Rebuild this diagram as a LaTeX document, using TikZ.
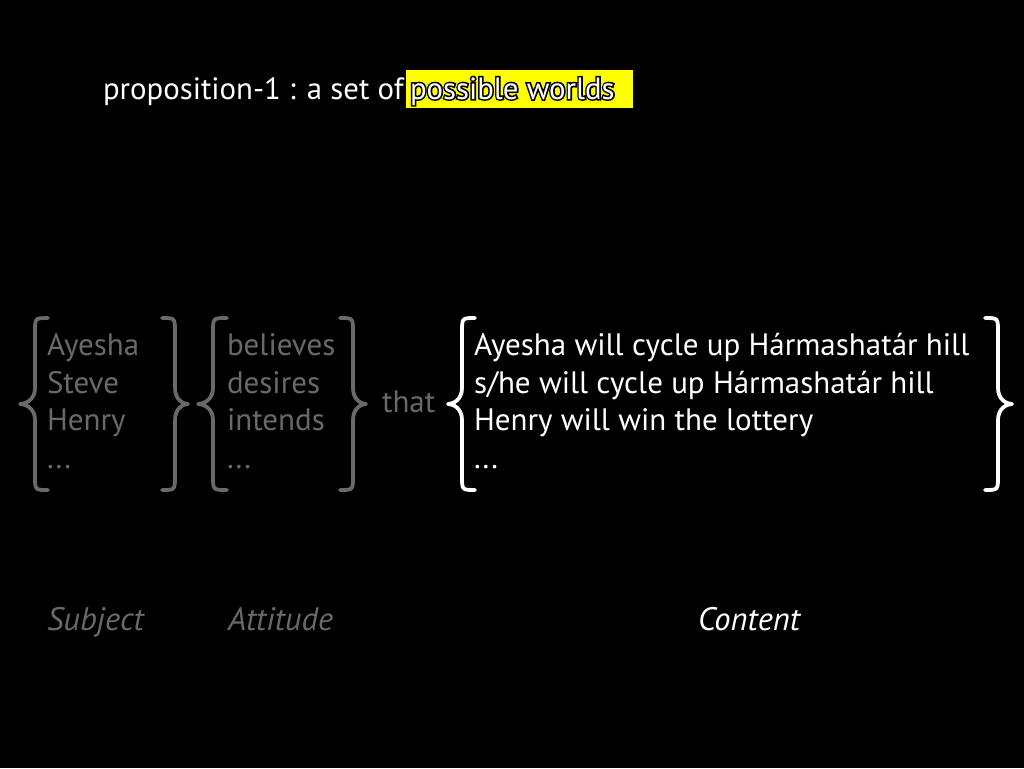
\documentclass[tikz,border=0pt]{standalone}
\usepackage{fontspec}
\setmainfont{PT Sans}
\newfontfamily\outlinefont[FakeBold=10]{PT Sans}
\definecolor{dim}{RGB}{105,105,105}
\definecolor{hl}{RGB}{255,255,0}
\newcommand{\mybrace}[7]{% color, tip x, bar x, end x, top y, mid y, bottom y
  \draw[bracestyle,#1] (#4,#5) .. controls (#3,#5) .. ({#3},{#5+14})
    -- ({#3},{#6-16}) .. controls ({#3},{#6-4}) and ({#2+0.35*(#3-#2)},{#6}) .. (#2,#6)
    .. controls ({#2+0.35*(#3-#2)},{#6}) and ({#3},{#6+4}) .. ({#3},{#6+16})
    -- ({#3},{#7-14}) .. controls (#3,#7) .. (#4,#7);}
\begin{document}
\begin{tikzpicture}[x=1pt,y=-1pt,
  txt/.style={anchor=base west, inner sep=0pt, outer sep=0pt},
  big/.style={font=\fontsize{31}{37}\selectfont},
  lab/.style={font=\fontsize{32.5}{38}\selectfont\itshape},
  ttl/.style={font=\fontsize{30.8}{36}\selectfont},
  bracestyle/.style={line width=3.8pt, line cap=round, line join=round}]
\fill[black] (0,0) rectangle (1024,768);
\useasboundingbox (0,0) rectangle (1024,768);

% title
\node[txt,ttl,white] (title) at (103,99) {proposition-1 : a set of};
\fill[hl] (406,70) rectangle (633,108);
\node[txt,ttl,black] (pwo) at (410,99) {\outlinefont possible worlds};
\node[txt,ttl,white] (pw) at (410,99) {possible worlds};

% subjects
\mybrace{dim}{20}{35}{48}{318}{404}{490}
\node[txt,big,dim] (s1) at (47,355) {Ayesha};
\node[txt,big,dim] (s2) at (47,393) {Steve};
\node[txt,big,dim] (s3) at (47,430) {Henry};
\node[txt,big,dim] (s4) at (47,468) {...};
\mybrace{dim}{188}{175}{162}{318}{404}{490}

% attitudes
\mybrace{dim}{198}{213}{227}{318}{404}{490}
\node[txt,big,dim] (a1) at (227,355) {believes};
\node[txt,big,dim] (a2) at (227,393) {desires};
\node[txt,big,dim] (a3) at (227,430) {intends};
\node[txt,big,dim] (a4) at (227,468) {...};
\mybrace{dim}{366}{353}{340}{318}{404}{490}

\node[txt,big,dim] (that) at (382,412) {that};

% contents
\mybrace{white}{448}{462}{475}{318}{404}{490}
\node[txt,big,white] (c1) at (474,355) {Ayesha will cycle up Hármashatár hill};
\node[txt,big,white] (c2) at (474,393) {s/he will cycle up Hármashatár hill};
\node[txt,big,white] (c3) at (474,430) {Henry will win the lottery};
\node[txt,big,white] (c4) at (474,468) {...};
\mybrace{white}{1012}{998}{985}{318}{404}{490}

% labels
\node[txt,lab,dim] (lsub) at (47,630) {Subject};
\node[txt,lab,dim] (latt) at (228,630) {Attitude};
\node[txt,lab,white] (lcon) at (698,630) {Content};
\end{tikzpicture}
\end{document}
